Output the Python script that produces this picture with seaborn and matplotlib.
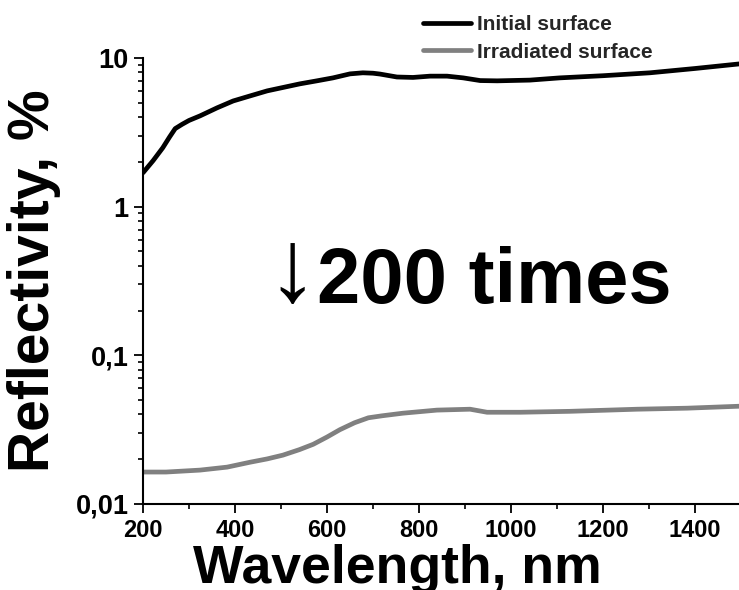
import matplotlib
matplotlib.use("Agg")
import matplotlib.pyplot as plt
import matplotlib.ticker as mticker
import seaborn as sns
import pandas as pd

# Reflectance spectra (wavelength in nm, reflectivity in %)
wl_initial = [200, 222, 243, 258, 270, 285, 300, 324, 361, 396, 433, 470, 541,
              578, 613, 650, 678, 700, 715, 752, 787, 824, 861, 896, 933, 970,
              1041, 1106, 1200, 1302, 1400, 1500]
r_initial = [1.69, 2.04, 2.49, 2.95, 3.35, 3.58, 3.80, 4.08, 4.62, 5.14, 5.56,
             6.01, 6.70, 7.02, 7.35, 7.82, 7.95, 7.90, 7.80, 7.45, 7.40, 7.55,
             7.55, 7.35, 7.05, 7.02, 7.10, 7.35, 7.60, 7.95, 8.50, 9.15]

wl_irradiated = [200, 250, 324, 383, 433, 470, 504, 540, 570, 600, 628, 660,
                 690, 720, 765, 839, 911, 948, 1020, 1128, 1274, 1383, 1500]
r_irradiated = [0.0164, 0.0164, 0.0169, 0.0177, 0.0191, 0.0201, 0.0213, 0.0232,
                0.0252, 0.0282, 0.0316, 0.0352, 0.0380, 0.0392, 0.0408, 0.0428,
                0.0434, 0.0414, 0.0414, 0.0420, 0.0434, 0.0441, 0.0455]

series_names = ["Initial surface", "Irradiated surface"]
series_colors = ["#000000", "#808080"]

x_ticks = [200, 400, 600, 800, 1000, 1200, 1400]
y_ticks = [0.01, 0.1, 1, 10]
y_tick_labels = ["0,01", "0,1", "1", "10"]

sns.set_theme(style="ticks")
plt.rcParams["font.family"] = ["Liberation Sans", "DejaVu Sans"]
plt.rcParams["font.weight"] = "bold"

fig = plt.figure(figsize=(7.39, 5.90), dpi=100)
ax = fig.add_axes([0.1935, 0.1458, 0.8092, 0.7559])

df_init = pd.DataFrame({"wl": wl_initial, "r": r_initial})
df_irr = pd.DataFrame({"wl": wl_irradiated, "r": r_irradiated})

sns.lineplot(data=df_init, x="wl", y="r", color=series_colors[0], lw=3.4,
             label=series_names[0], ax=ax)
sns.lineplot(data=df_irr, x="wl", y="r", color=series_colors[1], lw=3.4,
             label=series_names[1], ax=ax)

ax.set_yscale("log")
ax.set_xlim(200, 1500)
ax.set_ylim(0.01, 10)

ax.set_xticks(x_ticks)
ax.xaxis.set_minor_locator(mticker.MultipleLocator(100))
ax.set_yticks(y_ticks)
ax.set_yticklabels(y_tick_labels)
ax.yaxis.set_minor_locator(mticker.LogLocator(base=10, subs=range(2, 10)))
ax.yaxis.set_minor_formatter(mticker.NullFormatter())

for s in ["top", "right"]:
    ax.spines[s].set_visible(False)
for s in ["left", "bottom"]:
    ax.spines[s].set_linewidth(1.5)
    ax.spines[s].set_color("black")

ax.tick_params(axis="both", which="major", direction="out", length=6.5, width=1.3,
               pad=4, colors="black")
ax.tick_params(axis="both", which="minor", direction="out", length=3.6, width=1.2,
               colors="black")
ax.tick_params(axis="x", which="major", labelsize=17)
ax.tick_params(axis="y", which="major", labelsize=19.5)
for lbl in ax.get_xticklabels() + ax.get_yticklabels():
    lbl.set_fontweight("bold")

ax.set_xlabel("Wavelength, nm", fontsize=38.5, fontweight="bold", color="black")
ax.set_ylabel("Reflectivity, %", fontsize=41, fontweight="bold", color="black")
ax.xaxis.set_label_coords(0.426, -0.090)
ax.yaxis.set_label_coords(-0.137, 0.5)

leg = ax.legend(loc="upper left", bbox_to_anchor=(0.572, 0.974),
                bbox_transform=fig.transFigure, frameon=False,
                prop={"size": 15, "weight": "bold"}, handlelength=2.3,
                handletextpad=0.3, labelspacing=0.4, borderpad=0,
                borderaxespad=0)
for line in leg.get_lines():
    line.set_linewidth(3.4)

fig.text(0.4290, 0.4864, "200 times", fontsize=56, fontweight="bold",
         ha="left", va="baseline", color="black")
fig.text(0.4300, 0.4898, "\u2193", fontsize=74, fontweight="normal",
         ha="right", va="baseline", color="black")

fig.savefig("out.png", dpi=100)
